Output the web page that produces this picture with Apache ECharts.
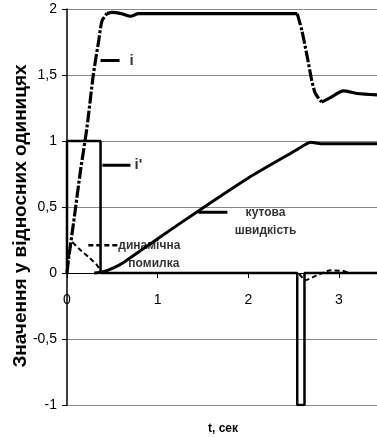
<!DOCTYPE html>
<html><head><meta charset="utf-8">
<script src="https://cdn.jsdelivr.net/npm/echarts@6/dist/echarts.min.js"></script>
<style>html,body{margin:0;padding:0;background:#fff}#c{width:377px;height:437px}</style>
</head><body><div id="c"></div>
<script>
// current i
const tCurrent = [0, 0.02, 0.08, 0.15, 0.22, 0.29, 0.35, 0.386, 0.44, 0.50, 0.60, 0.70, 0.79, 1.0, 2.54, 2.59, 2.65, 2.70, 2.74, 2.81, 2.91, 3.05, 3.20, 3.42];
const current  = [0, 0.12, 0.42, 0.78, 1.10, 1.50, 1.76, 1.91, 1.965, 1.975, 1.965, 1.945, 1.965, 1.965, 1.965, 1.84, 1.64, 1.46, 1.36, 1.295, 1.33, 1.38, 1.36, 1.35];
// time ranges where the steep parts of i show as dash-dot
const steepRanges = [[0, 0.44], [2.54, 2.81]];
// reference current i'
const tRef = [0, 0, 0.37, 0.37, 2.54, 2.54, 2.62, 2.62, 3.42];
const refCurrent = [0, 1, 1, 0, 0, -1, -1, 0, 0];
// angular speed
const tSpeed = [0.30, 0.40, 0.50, 0.625, 1.0, 1.47, 2.0, 2.5, 2.62, 2.69, 2.8, 3.42];
const speed  = [0, 0.01, 0.035, 0.08, 0.26, 0.48, 0.72, 0.92, 0.97, 0.99, 0.98, 0.98];
// dynamic error
const tError = [0, 0.055, 0.13, 0.24, 0.33, 0.40, 2.54, 2.63, 2.75, 2.91, 3.05, 3.12, 3.42];
const dynError = [0, 0.235, 0.185, 0.12, 0.06, 0, 0, -0.055, -0.02, 0.02, 0.015, 0, 0];

const yTicks = [-1, -0.5, 0, 0.5, 1, 1.5, 2];
const xTicks = [0, 1, 2, 3];

// annotations (data units)
const leaderI = [[0.37, 1.61], [0.58, 1.61]];
const leaderRef = [[0.39, 0.816], [0.70, 0.816]];
const leaderErr = [[0.235, 0.21], [0.556, 0.21]];
const leaderSpeed = [[1.45, 0.46], [1.77, 0.46]];
const labelsLeft = [
  {text: 'i', pos: [0.69, 1.61], size: 15},
  {text: "i'", pos: [0.746, 0.816], size: 15},
  {text: 'динамічна', pos: [0.566, 0.21], size: 12},
  {text: 'помилка', pos: [0.677, 0.073], size: 12}
];
const labelsCenter = [
  {text: 'кутова', pos: [2.19, 0.46], size: 12},
  {text: 'швидкість', pos: [2.19, 0.323], size: 12}
];

const zip = (a, b) => a.map((v, i) => [v, b[i]]);
const FONT = '"Liberation Sans", Arial, sans-serif';
const inSteep = t => steepRanges.some(r => t >= r[0] && t <= r[1]);
const isFlatPoint = (t, i) => {
  // a point belongs to flat part if it is not strictly inside a steep range
  return !steepRanges.some(r => t > r[0] && t < r[1]);
};
const iDashed = tCurrent.map((t, k) => [t, inSteep(t) ? current[k] : null]);
const iSolid = tCurrent.map((t, k) => [t, isFlatPoint(t, k) && !(t === 0) ? current[k] : null]);

const chart = echarts.init(document.getElementById('c'), null, {renderer: 'canvas'});
function leader(data, type, width) {
  return {type: 'line', data: data, symbol: 'none', silent: true, z: 4,
    lineStyle: {color: '#000', width: width, type: type}};
}
function textSeries(items, align) {
  return {type: 'scatter', symbolSize: 0, silent: true, z: 6,
    data: items.map(it => ({value: it.pos, label: {show: true, formatter: it.text, position: 'inside',
      align: align, verticalAlign: 'middle', fontSize: it.size, fontWeight: 'bold', color: '#000', fontFamily: FONT}}))};
}
const gridTop = 9, gridBottom = 32, H = 437;
const plotH = H - gridTop - gridBottom;
const yMin = -1, yMax = 2;
const zeroOffset = -plotH * (0 - yMin) / (yMax - yMin);
chart.setOption({
  animation: false,
  grid: {left: 67, right: 0, top: gridTop, bottom: gridBottom, containLabel: false, outerBoundsMode: 'none'},
  xAxis: {
    type: 'value', min: 0, max: 3.42, interval: 1, position: 'bottom', offset: zeroOffset,
    axisLine: {onZero: false, lineStyle: {color: '#000', width: 1}},
    axisTick: {show: true, length: 5, lineStyle: {color: '#000'}},
    axisLabel: {margin: 20, fontSize: 14, color: '#000', fontFamily: FONT, showMaxLabel: false,
      formatter: v => xTicks.includes(v) ? String(v) : ''},
    splitLine: {show: false}
  },
  yAxis: {
    type: 'value', min: yMin, max: yMax, interval: 0.5,
    axisLine: {show: true, onZero: false, lineStyle: {color: '#000', width: 1.5}},
    axisTick: {show: true, length: 5, lineStyle: {color: '#000'}},
    axisLabel: {margin: 10, fontSize: 14, color: '#000', fontFamily: FONT,
      formatter: v => yTicks.includes(v) ? String(v).replace('.', ',') : ''},
    splitLine: {show: true, lineStyle: {color: '#888', width: 1}}
  },
  graphic: [{
    type: 'text', x: 21, y: 216, rotation: Math.PI / 2,
    style: {text: 'Значення у відносних одиницях', font: 'bold 19px ' + FONT, fill: '#000',
      textAlign: 'center', textVerticalAlign: 'middle'}
  }, {
    type: 'text', x: 223, y: 429,
    style: {text: 't, сек', font: 'bold 12px ' + FONT, fill: '#000',
      textAlign: 'center', textVerticalAlign: 'middle'}
  }],
  series: [
    {type: 'line', data: zip(tSpeed, speed), symbol: 'none', smooth: 0.2, z: 3,
      lineStyle: {color: '#000', width: 3}},
    {type: 'line', data: iDashed, symbol: 'none', smooth: 0.25, connectNulls: false, z: 3,
      lineStyle: {color: '#000', width: 3.2, type: [12, 2, 3, 2]}},
    {type: 'line', data: iSolid, symbol: 'none', smooth: 0.25, connectNulls: false, z: 3,
      lineStyle: {color: '#000', width: 3.2}},
    {type: 'line', data: zip(tRef, refCurrent), symbol: 'none', z: 4,
      lineStyle: {color: '#000', width: 2.5}},
    {type: 'line', data: zip(tError, dynError), symbol: 'none', smooth: 0.2, z: 5,
      lineStyle: {color: '#000', width: 2, type: [5, 3]}},
    leader(leaderI, 'solid', 3),
    leader(leaderRef, 'solid', 3),
    leader(leaderErr, [5, 3], 2.5),
    leader(leaderSpeed, 'solid', 3),
    textSeries(labelsLeft, 'left'),
    textSeries(labelsCenter, 'center')
  ]
});
</script></body></html>
